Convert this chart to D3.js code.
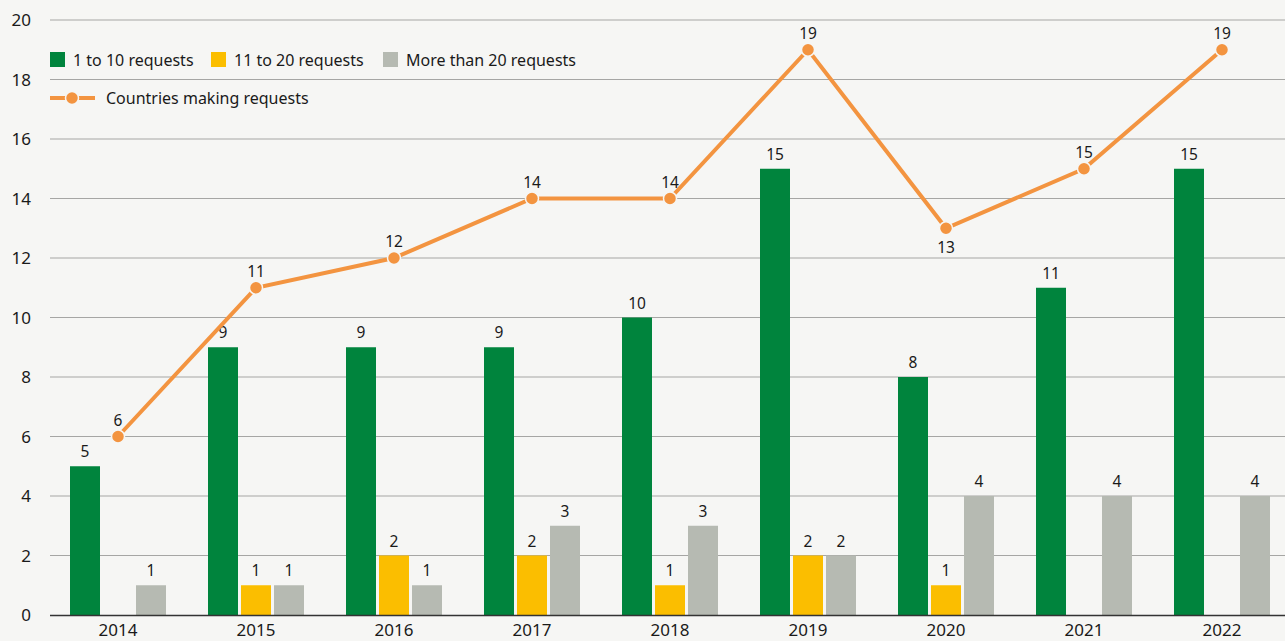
<!DOCTYPE html>
<html>
<head>
<meta charset="utf-8">
<script src="https://cdn.jsdelivr.net/npm/d3@7"></script>
<style>
body{margin:0;background:#f6f6f4;}
svg{display:block;font-family:"Noto Sans",sans-serif;}
</style>
</head>
<body>
<svg width="1285" height="641"></svg>
<script>
const years = ["2014","2015","2016","2017","2018","2019","2020","2021","2022"];
const small = [5,9,9,9,10,15,8,11,15];
const medium = [0,1,2,2,1,2,1,0,0];
const large = [1,1,1,3,3,2,4,4,4];
const countries = [6,11,12,14,14,19,13,15,19];
const yTicks = [0,2,4,6,8,10,12,14,16,18,20];

const series = [
  {name:"1 to 10 requests", values:small, color:"#00843d"},
  {name:"11 to 20 requests", values:medium, color:"#fbbe00"},
  {name:"More than 20 requests", values:large, color:"#b6bab2"}
];

const svg = d3.select("svg");
const W = 1285, H = 641;
svg.append("rect").attr("width",W).attr("height",H).attr("fill","#f6f6f4");

const x = d3.scaleBand().domain(years).range([49,1291]);
const y = d3.scaleLinear().domain([0,20]).range([615,20]);
const inner = d3.scalePoint().domain([0,1,2]).range([-33,33]);
const barW = 30;
const mid = d => x(d)+x.bandwidth()/2;

// gridlines
svg.append("g").selectAll("line").data(yTicks.filter(d=>d>0)).join("line")
  .attr("x1",50).attr("x2",W).attr("y1",d=>y(d)).attr("y2",d=>y(d))
  .attr("stroke","#a6a6a4").attr("stroke-width",1);

// y labels
svg.append("g").selectAll("text").data(yTicks).join("text")
  .attr("x",31).attr("y",d=>y(d)+6).attr("text-anchor","end")
  .attr("font-size",17).attr("fill","#1a1a1a").text(d=>d);

// bars
series.forEach((s,i)=>{
  const g = svg.append("g");
  const data = years.map((yr,j)=>({yr,v:s.values[j]})).filter(d=>d.v>0);
  g.selectAll("rect").data(data).join("rect")
    .attr("x",d=>mid(d.yr)+inner(i)-barW/2)
    .attr("width",barW)
    .attr("y",d=>y(d.v)).attr("height",d=>y(0)-y(d.v))
    .attr("fill",s.color);
  g.selectAll("text").data(data).join("text")
    .attr("x",d=>mid(d.yr)+inner(i))
    .attr("y",d=>y(d.v)-9).attr("text-anchor","middle")
    .attr("font-size",15.5).attr("fill","#1a1a1a").text(d=>d.v);
});

// axis baseline
svg.append("line").attr("x1",50).attr("x2",W).attr("y1",y(0)+0.5).attr("y2",y(0)+0.5)
  .attr("stroke","#333").attr("stroke-width",1.5);

// x labels
svg.append("g").selectAll("text").data(years).join("text")
  .attr("x",mid).attr("y",636).attr("text-anchor","middle")
  .attr("font-size",17).attr("fill","#1a1a1a").text(d=>d);

// line
const pts = years.map((yr,j)=>({yr,v:countries[j]}));
svg.append("path").datum(pts)
  .attr("d",d3.line().x(d=>mid(d.yr)).y(d=>y(d.v)))
  .attr("fill","none").attr("stroke","#f39440").attr("stroke-width",4);
svg.append("g").selectAll("circle").data(pts).join("circle")
  .attr("cx",d=>mid(d.yr)).attr("cy",d=>y(d.v)).attr("r",6.5)
  .attr("fill","#f39440").attr("stroke","#f6f6f4").attr("stroke-width",1.5);
svg.append("g").selectAll("text").data(pts).join("text")
  .attr("x",d=>mid(d.yr)).attr("y",d=>d.yr==="2020"? y(d.v)+25 : y(d.v)-11)
  .attr("text-anchor","middle").attr("font-size",15.5).attr("fill","#1a1a1a").text(d=>d.v);

// legend
const leg = svg.append("g");
const legX = [50,211,383];
series.forEach((s,i)=>{
  leg.append("rect").attr("x",legX[i]).attr("y",52).attr("width",15).attr("height",15).attr("fill",s.color);
  leg.append("text").attr("x",legX[i]+23).attr("y",66).attr("font-size",16).attr("fill","#1a1a1a").text(s.name);
});
leg.append("line").attr("x1",50).attr("x2",95).attr("y1",98).attr("y2",98).attr("stroke","#f39440").attr("stroke-width",4);
leg.append("circle").attr("cx",72).attr("cy",98).attr("r",6.5).attr("fill","#f39440").attr("stroke","#f6f6f4").attr("stroke-width",1.5);
leg.append("text").attr("x",106).attr("y",104).attr("font-size",16).attr("fill","#1a1a1a").text("Countries making requests");
</script>
</body>
</html>
